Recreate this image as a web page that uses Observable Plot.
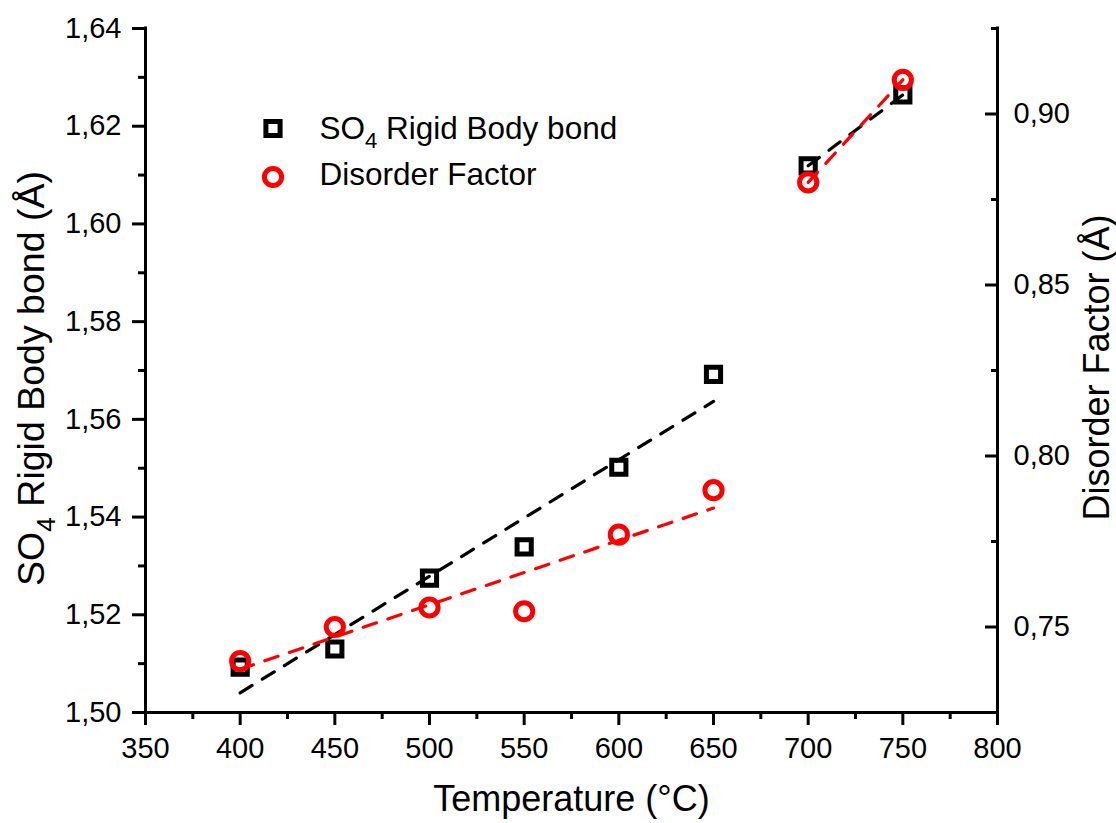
<!DOCTYPE html>
<html><head><meta charset="utf-8">
<script src="https://cdn.jsdelivr.net/npm/d3@7"></script>
<script src="https://cdn.jsdelivr.net/npm/@observablehq/plot@0.6"></script>
<style>body{margin:0;background:#fff} #chart svg{display:block}</style>
</head><body><div id="chart"></div>
<script>
// ---- data ----
const temperatures = [400, 450, 500, 550, 600, 650, 700, 750];
const so4Bond      = [1.5093, 1.5130, 1.5275, 1.5339, 1.5502, 1.5692, 1.6119, 1.6264];
const disorder     = [0.740, 0.750, 0.7557, 0.7546, 0.777, 0.790, 0.880, 0.910];
const fitSegment   = ["low", "low", "low", "low", "low", "low", "high", "high"];

const xDomain = [350, 800];
const xMajor  = [350, 400, 450, 500, 550, 600, 650, 700, 750, 800];
const xMinor  = [375, 425, 475, 525, 575, 625, 675, 725, 775];
const yDomain = [1.50, 1.64];
const yMajor  = [1.50, 1.52, 1.54, 1.56, 1.58, 1.60, 1.62, 1.64];
const yMinor  = [1.51, 1.53, 1.55, 1.57, 1.59, 1.61, 1.63];
const rDomain = [0.725, 0.925];
const rMajor  = [0.75, 0.80, 0.85, 0.90];
const rMinor  = [0.775, 0.825, 0.875, 0.925];

const xTitle = "Temperature (°C)";
const yTitle = "SO4 Rigid Body bond (Å)";
const rTitle = "Disorder Factor (Å)";
const legendLabels = ["SO4 Rigid Body bond", "Disorder Factor"];

// ---- helpers ----
const toLeft = v => yDomain[0] + (v - rDomain[0]) * (yDomain[1] - yDomain[0]) / (rDomain[1] - rDomain[0]);
const fromLeft = y => rDomain[0] + (y - yDomain[0]) * (rDomain[1] - rDomain[0]) / (yDomain[1] - yDomain[0]);
const comma = v => d3.format(".2f")(v).replace(".", ",");

const rows = temperatures.map((t, i) => ({t, bond: so4Bond[i], dis: toLeft(disorder[i]), seg: fitSegment[i]}));

const AX = 3;
const TICKFONT = 29;
const font = "Liberation Sans, Arial, sans-serif";

const chart = Plot.plot({
  width: 1116, height: 823,
  marginLeft: 145, marginRight: 119, marginTop: 28, marginBottom: 111,
  style: {fontFamily: font, background: "white", color: "black"},
  x: {domain: xDomain},
  y: {domain: yDomain},
  marks: [
    // axis lines
    Plot.ruleX([xDomain[0], xDomain[1]], {stroke: "black", strokeWidth: AX, strokeLinecap: "square"}),
    Plot.ruleY([yDomain[0]], {stroke: "black", strokeWidth: AX, strokeLinecap: "square"}),
    // x axis
    Plot.axisX(xMajor, {anchor: "bottom", tickSize: 13, tickPadding: 12, strokeWidth: AX, fontSize: TICKFONT, tickFormat: d => String(d), label: null}),
    Plot.axisX(xMinor, {anchor: "bottom", tickSize: 7, strokeWidth: AX, fill: "none", label: null}),
    // left y axis
    Plot.axisY(yMajor, {anchor: "left", tickSize: 13, tickPadding: 11, strokeWidth: AX, fontSize: TICKFONT, tickFormat: comma, label: null}),
    Plot.axisY(yMinor, {anchor: "left", tickSize: 7, strokeWidth: AX, fill: "none", label: null}),
    // right y axis (ticks point inward)
    Plot.axisY(rMajor.map(toLeft), {anchor: "right", tickSize: 13, dx: -13, strokeWidth: AX, fill: "none", label: null}),
    Plot.axisY(rMinor.map(toLeft), {anchor: "right", tickSize: 7, dx: -7, strokeWidth: AX, fill: "none", label: null}),
    Plot.axisY(rMajor.map(toLeft), {anchor: "right", tickSize: 0, tickPadding: 16, fontSize: TICKFONT, tickFormat: d => comma(fromLeft(d)), label: null}),
    // titles
    Plot.text([xTitle], {text: d => d, frameAnchor: "bottom", dy: 98, lineAnchor: "bottom", textAnchor: "middle", fontSize: 36}),
    Plot.text([yTitle], {text: d => d, frameAnchor: "left", dx: -102, dy: 8, rotate: -90, lineAnchor: "bottom", textAnchor: "middle", fontSize: 37.5}),
    Plot.text([rTitle], {text: d => d, frameAnchor: "right", dx: 111, dy: -3, rotate: -90, lineAnchor: "bottom", textAnchor: "middle", fontSize: 36}),
    // series
    Plot.dot(rows, {x: "t", y: "bond", symbol: "square", r: 8, stroke: "black", strokeWidth: 5, fill: "none"}),
    Plot.linearRegressionY(rows, {x: "t", y: "bond", z: "seg", stroke: "black", strokeWidth: 3.2, strokeDasharray: "14,12", ci: 0}),
    Plot.dot(rows, {x: "t", y: "dis", symbol: "circle", r: 8.6, stroke: "#ff0000", strokeWidth: 5, fill: "none"}),
    Plot.linearRegressionY(rows, {x: "t", y: "dis", z: "seg", stroke: "#ff0000", strokeWidth: 3.2, strokeDasharray: "14,12", ci: 0}),
    // legend
    Plot.dot([legendLabels[0]], {frameAnchor: "top-left", dx: 127.5, dy: 100, symbol: "square", r: 8, stroke: "black", strokeWidth: 5, fill: "none"}),
    Plot.dot([legendLabels[1]], {frameAnchor: "top-left", dx: 127.5, dy: 148.5, symbol: "circle", r: 8.6, stroke: "#ff0000", strokeWidth: 5, fill: "none"}),
    Plot.text([legendLabels[0]], {text: d => d, frameAnchor: "top-left", dx: 174, dy: 110, lineAnchor: "bottom", textAnchor: "start", fontSize: 31.5}),
    Plot.text([legendLabels[1]], {text: d => d, frameAnchor: "top-left", dx: 174, dy: 156, lineAnchor: "bottom", textAnchor: "start", fontSize: 31.5})
  ]
});

// subscript "4" in SO4
d3.select(chart).selectAll("text").each(function () {
  const t = this.textContent;
  if (t.startsWith("SO4")) {
    const el = d3.select(this);
    el.text(null);
    el.append("tspan").text("SO");
    el.append("tspan").attr("font-size", "0.7em").attr("dy", "0.42em").text("4");
    el.append("tspan").attr("dy", "-0.294em").text(t.slice(3));
  }
});

document.getElementById("chart").appendChild(chart);
</script>
</body></html>
